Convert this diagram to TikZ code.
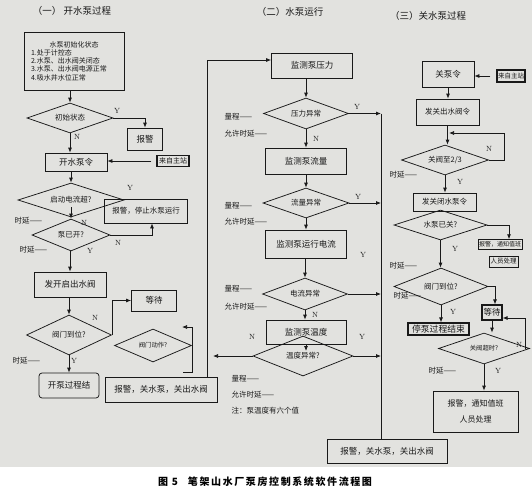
\documentclass[tikz,border=0pt]{standalone}
\usepackage{fontspec}
\usepackage{xcolor}
\usepackage{tikz}
\usetikzlibrary{shapes.geometric}
\usetikzlibrary{arrows.meta}
\newfontfamily\cjk{Noto Sans CJK SC}
\definecolor{paper}{RGB}{226,226,223}
\definecolor{ink}{RGB}{25,25,25}
\tikzset{every node/.style={font=\cjk\fontsize{7.5}{9}\selectfont, text=ink}}
\tikzset{pbox/.style={draw=ink, line width=0.75pt, inner sep=1pt, font=\cjk\fontsize{8.5}{10}\selectfont}}
\tikzset{hbox/.style={pbox, line width=1.2pt}}
\tikzset{pdiam/.style={draw=ink, line width=0.75pt, diamond, aspect=2.5, inner sep=0pt, font=\cjk\fontsize{7.5}{9}\selectfont}}
\tikzset{smalltext/.style={font=\cjk\fontsize{6.3}{7.5}\selectfont}}
\tikzset{ynlab/.style={font=\rmfamily\fontsize{7.5}{8}\selectfont}}
\tikzset{notelab/.style={anchor=west}}
\tikzset{headlab/.style={font=\cjk\fontsize{9.5}{11}\selectfont}}
\tikzset{flowarr/.style={draw=ink, line width=0.75pt, -{Latex[length=5pt,width=4pt]}}}
\tikzset{flowline/.style={draw=ink, line width=0.75pt}}

\begin{document}
\begin{tikzpicture}[x=1pt,y=-1pt]
{
\useasboundingbox (0,0) rectangle (532,495);
\fill[paper] (0,0) rectangle (532,467);

\node[headlab] (h1) at (72,11) {（一）\ 开水泵过程};
\node[pbox, minimum width=100, minimum height=58, text width=86, align=left, font=\cjk\fontsize{7}{8.2}\selectfont] (init) at (74,61) {\makebox[86pt]{水泵初始化状态}\\1.处于计控态\\2.水泵、出水阀关闭态\\3.水泵、出水阀电源正常\\4.吸水井水位正常};
\node[pdiam, minimum width=86, minimum height=30] (ini) at (70,118) {初始状态};
\node[pbox, minimum width=35, minimum height=22] (alm1) at (145,139) {报警};
\node[pbox, minimum width=62, minimum height=18] (cmd1) at (76,162) {开水泵令};
\node[hbox, minimum width=32, minimum height=11, font=\cjk\fontsize{7}{8}\selectfont] (src1) at (173,161) {来自主站};
\node[pdiam, minimum width=106, minimum height=34] (icur) at (71,200) {启动电流超?};
\node[pbox, minimum width=83, minimum height=24, font=\cjk\fontsize{7.5}{9}\selectfont] (alm2) at (146,211) {报警，停止水泵运行};
\node[pdiam, minimum width=78, minimum height=32] (isopen) at (71,235) {泵已开?};
\node[pbox, minimum width=72, minimum height=25] (openv) at (70,284.5) {发开启出水阀};
\node[pdiam, minimum width=85, minimum height=40] (vpos1) at (69,335) {阀门到位?};
\node[pbox, minimum width=45, minimum height=21] (wait1) at (154,300.5) {等待};
\node[pbox, rounded corners=3pt, minimum width=60, minimum height=25] (end1) at (69,385.5) {开泵过程结};
\node[pdiam, smalltext, minimum width=77, minimum height=33] (vmove) at (153,345.5) {阀门动作?};
\node[pbox, minimum width=112, minimum height=25] (alm3) at (161,389.5) {报警，关水泵，关出水阀};

\node[ynlab] (y1) at (117,111) {Y};
\node[ynlab] (n1) at (77,137) {N};
\node[ynlab] (y2) at (130,188) {Y};
\node[ynlab] (n2) at (84,223) {N};
\node[ynlab] (n3) at (118,243) {N};
\node[ynlab] (y3) at (90,251) {Y};
\node[ynlab] (n4) at (95,318) {N};
\node[ynlab] (y4) at (74,361) {Y};
\node[notelab] (dl1) at (11,221) {时延——};
\node[notelab] (dl2) at (16,250) {时延——};
\node[notelab] (dl3) at (9,361) {时延——};

\coordinate (bk1) at (183,372);
\coordinate (bk2) at (182,327);
\coordinate (tl) at (213,355);
\draw[flowarr] (init.south -| ini.north) -- (ini.north);
\draw[flowarr] (ini.east) -| (alm1.north);
\draw[flowarr] (ini.south) -- (ini.south |- cmd1.north);
\draw[flowarr, shorten <=5pt] (src1.west) -- (src1.west -| cmd1.east);
\draw[flowarr] (cmd1.south -| icur.north) -- (icur.north);
\draw[flowarr] ([yshift=-7]icur.center) -- (icur.center |- isopen.north);
\draw[flowarr] (isopen.east) -| ([xshift=6]alm2.south);
\draw[flowarr] (isopen.south -| openv.north) -- (openv.north);
\draw[flowarr] (openv.south -| vpos1.north) -- (vpos1.north);
\draw[flowarr] (vpos1.east) |- (wait1.west);
\draw[flowarr] (vpos1.south) -- (vpos1.south |- end1.north);
\draw[flowarr] (bk1) -- (bk1 -| vmove.east) |- (bk2);

\node[headlab] (h2) at (290,12) {（二）水泵运行};
\node[pbox, minimum width=81, minimum height=25] (mpress) at (312,65.5) {监测泵压力};
\node[pdiam, minimum width=85, minimum height=31] (dpress) at (306,113.5) {压力异常};
\node[pbox, minimum width=81, minimum height=26] (mflow) at (306,161) {监测泵流量};
\node[pdiam, minimum width=86, minimum height=30] (dflow) at (306,203) {流量异常};
\node[pbox, minimum width=81, minimum height=28] (mcur) at (306,244) {监测泵运行电流};
\node[pdiam, minimum width=85, minimum height=32] (dcur) at (305,294) {电流异常};
\node[pbox, minimum width=80, minimum height=24] (mtemp) at (306,332) {监测泵温度};
\node[pdiam, minimum width=100, minimum height=40] (dtemp) at (303,356) {温度异常?};
\node[pbox, minimum width=120, minimum height=24] (alm4) at (387,451) {报警，关水泵，关出水阀};

\node[notelab] (r1) at (221,117) {量程——};
\node[notelab] (a1) at (221,134) {允许时延——};
\node[notelab] (r2) at (221,206) {量程——};
\node[notelab] (a2) at (221,222) {允许时延——};
\node[notelab] (r3) at (221,289) {量程——};
\node[notelab] (a3) at (221,307) {允许时延——};
\node[notelab] (r4) at (228,379) {量程——};
\node[notelab] (a4) at (228,395) {允许时延——};
\node[notelab] (nt) at (228,411) {注：泵温度有六个值};
\node[ynlab] (y5) at (357,107) {Y};
\node[ynlab] (n5) at (316,139) {N};
\node[ynlab] (y6) at (358,197) {Y};
\node[ynlab] (y7) at (363,255) {Y};
\node[ynlab] (n6) at (315,315) {N};
\node[ynlab] (n7) at (252,337) {N};
\node[ynlab] (y8) at (362,337) {Y};

\coordinate (rv) at (381,113.5);
\coordinate (dtin) at ([yshift=5]dtemp.center);
\draw[flowarr] ([xshift=46]alm3.north) |- ([yshift=5.5]mpress.west);
\draw[flowline] (rv) -- (rv |- alm4.north);
\draw[flowarr] (mpress.south -| dpress.north) -- (dpress.north);
\draw[flowarr] (dpress.south) -- (dpress.south |- mflow.north);
\draw[flowarr] (mflow.south) -- (mflow.south |- dflow.north);
\draw[flowarr] (dflow.south) -- (dflow.south |- mcur.north);
\draw[flowarr] (mcur.south -| dcur.north) -- (dcur.north);
\draw[flowarr] (dcur.south) -- (dcur.south |- mtemp.north);
\draw[flowarr] (mtemp.south) -- (mtemp.south |- dtin);
\draw[flowarr] (dpress.east) -- (dpress.east -| rv);
\draw[flowarr] (dflow.east) -- (dflow.east -| rv);
\draw[flowarr] (dcur.east) -- (dcur.east -| rv);
\draw[flowarr] (dtemp.east) -- (dtemp.east -| rv);
\draw[flowarr] (dtemp.west) -- (dtemp.west -| tl);

\node[headlab] (h3) at (428,16) {（三）关水泵过程};
\node[pbox, minimum width=52, minimum height=26] (stop) at (448,74) {关泵令};
\node[hbox, minimum width=28, minimum height=12, font=\cjk\fontsize{6.5}{8}\selectfont] (src2) at (511,76) {来自主站};
\node[pbox, minimum width=63, minimum height=26, font=\cjk\fontsize{7.5}{9}\selectfont] (sendv) at (447.5,112) {发关出水阀令};
\node[pdiam, minimum width=87, minimum height=30] (dv23) at (445,160) {关阀至2/3};
\node[pbox, minimum width=63, minimum height=18, font=\cjk\fontsize{7.5}{9}\selectfont] (sendp) at (444.5,202) {发关闭水泵令};
\node[pdiam, minimum width=93, minimum height=30] (dpoff) at (440.5,225) {水泵已关?};
\node[pbox, line width=0.5pt, minimum width=44, minimum height=10, font=\cjk\fontsize{6}{7}\selectfont] (alm5a) at (500,244.5) {报警，通知值班};
\node[pbox, line width=0.5pt, minimum width=29, minimum height=11, font=\cjk\fontsize{6.5}{7}\selectfont] (alm5b) at (503.5,261.5) {人员处理};
\node[pdiam, minimum width=94, minimum height=37] (dvpos) at (441,286.5) {阀门到位?};
\node[hbox, minimum width=20, minimum height=15] (wait2) at (492,312.5) {等待};
\node[hbox, minimum width=61, minimum height=12, font=\cjk\fontsize{8.8}{10}\selectfont] (endp) at (438.5,329) {停泵过程结束};
\node[pdiam, smalltext, minimum width=91, minimum height=31] (dtime) at (484,348.5) {关阀超时?};
\node[pbox, minimum width=85, minimum height=41, align=center, font=\cjk\fontsize{8}{16}\selectfont] (alm6) at (475.5,411.5) {报警，通知值班\\人员处理};

\node[ynlab] (n8) at (489,149) {N};
\node[notelab] (dl4) at (386,175) {时延——};
\node[ynlab] (y9) at (460,182) {Y};
\node[ynlab] (y10) at (455,249) {Y};
\node[notelab] (dl5) at (386,266) {时延——};
\node[notelab] (dl6) at (390,296) {时延——};
\node[ynlab] (y11) at (453,312) {Y};
\node[ynlab] (n9) at (519,345) {N};
\node[ynlab] (y12) at (498,371) {Y};
\node[notelab] (dl7) at (425,371) {时延——};

\coordinate (lp3) at (449,133);
\draw[flowarr, shorten <=6pt] (src2.west) -- (src2.west -| stop.east);
\draw[flowarr] (stop.south) -- (stop.south |- sendv.north);
\draw[flowarr] (sendv.south) -- (sendv.south |- dv23.north);
\draw[flowarr] (dv23.east) -- ++(15,0) |- (lp3);
\draw[flowarr] (dv23.south) -- (dv23.south |- sendp.north);
\draw[flowarr] (dpoff.east) -| ([xshift=9]alm5a.north);
\draw[flowarr] (dpoff.south) -- (dpoff.south |- dvpos.north);
\draw[flowarr] (dvpos.east) -| ([xshift=3]wait2.north);
\draw[flowarr] (dvpos.south) -- (dvpos.south |- endp.north);
\draw[flowarr] (wait2.south) -- (wait2.south |- dtime.north);
\draw[flowarr] ([xshift=-5]dtime.east) |- ([yshift=-5.5]wait2.east);
\draw[flowarr] (dtime.south) -- (dtime.south |- alm6.north);

\node[font=\cjk\bfseries\fontsize{10}{12}\selectfont\addfontfeature{LetterSpace=16}, text=black] (cap) at (265,482) {图 5\hspace{10pt}笔架山水厂泵房控制系统软件流程图};
}
\end{tikzpicture}
\end{document}
